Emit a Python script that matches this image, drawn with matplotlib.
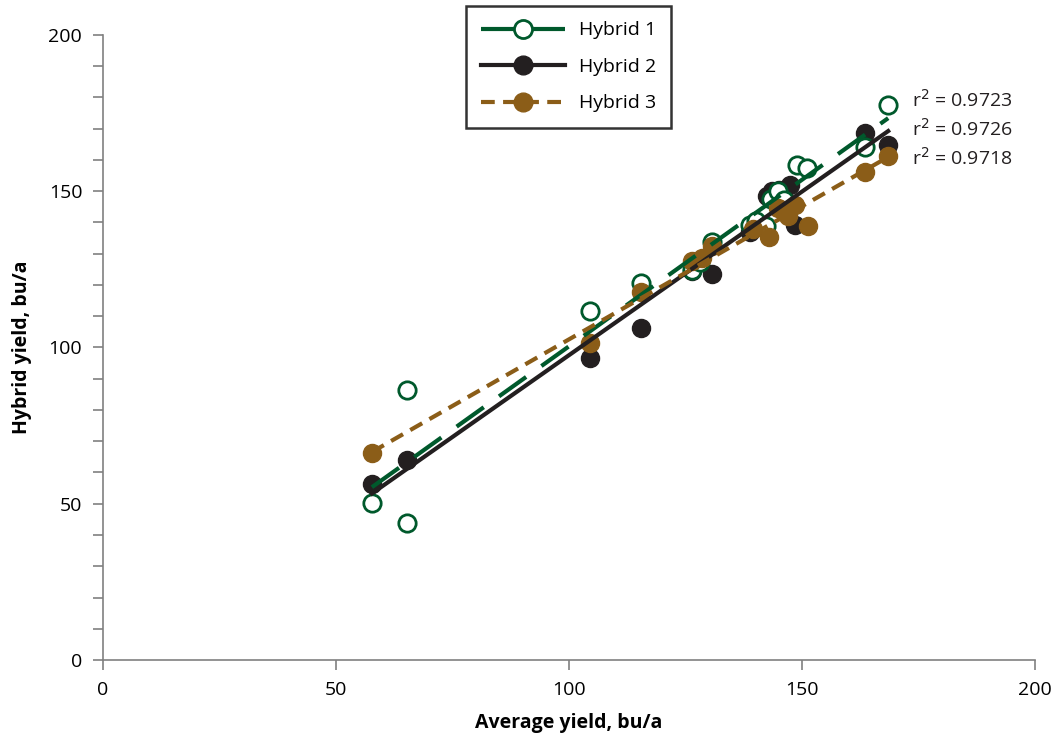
import matplotlib.pyplot as plt
import numpy as np
from matplotlib.lines import Line2D
from matplotlib.ticker import MultipleLocator

plt.rcParams["font.family"] = ["Open Sans", "DejaVu Sans"]

# Hybrid 1 (open circles)
h1_x = [57.7, 65.2, 65.2, 104.5, 115.5, 126.4, 128.2, 130.7, 138.8, 140.2, 142.3,
        143.3, 144.8, 146.2, 148.9, 151.0, 163.5, 168.5]
h1_y = [50.2, 43.8, 86.4, 111.7, 120.6, 124.8, 127.2, 133.6, 139.2, 140.5, 138.9,
        147.5, 150.0, 147.0, 158.4, 157.4, 164.2, 177.4]

# Hybrid 2 (black)
h2_x = [57.7, 65.2, 104.5, 115.5, 126.4, 130.7, 138.8, 142.5, 143.5, 145.0,
        147.5, 148.5, 163.5, 168.5]
h2_y = [56.3, 64.0, 96.6, 106.2, 124.5, 123.5, 136.8, 148.5, 150.0, 150.5,
        152.0, 139.3, 168.6, 164.8]

# Hybrid 3 (brown)
h3_x = [57.7, 104.5, 115.5, 126.4, 128.5, 130.7, 139.5, 143.0, 144.8, 147.0,
        148.5, 151.3, 163.5, 168.5]
h3_y = [66.2, 101.5, 117.8, 127.5, 128.5, 132.5, 138.0, 135.4, 144.6, 142.0,
        145.5, 138.9, 156.2, 161.3]

r2_labels = ["r$^2$ = 0.9723", "r$^2$ = 0.9726", "r$^2$ = 0.9718"]

green = "#00592c"
black = "#231f20"
brown = "#8b5d18"

fig = plt.figure(figsize=(10.59, 7.4), dpi=100)
ax = fig.add_axes([0.0973, 0.108, 0.88, 0.845])


def trend(x, y):
    k, b = np.polyfit(x, y, 1)
    xs = np.array([min(x), max(x)])
    return xs, k * xs + b


x1, y1 = trend(h1_x, h1_y)
x2, y2 = trend(h2_x, h2_y)
x3, y3 = trend(h3_x, h3_y)

ax.plot(x1, y1, color=green, lw=3, dashes=(8, 4.5), zorder=4)
ax.plot(x2, y2, color=black, lw=3, zorder=4)
ax.plot(x3, y3, color=brown, lw=3, dashes=(3.3, 2), zorder=4)

ax.plot(h2_x, h2_y, "o", ms=13, color=black, mec=black, zorder=2)
ax.plot(h1_x, h1_y, "o", ms=12.5, mfc="white", mec=green, mew=2, zorder=3)
ax.plot(h3_x, h3_y, "o", ms=13, color=brown, mec=brown, zorder=3.5)

for i, lab in enumerate(r2_labels):
    ax.text(0.861, 0.865 - i * 0.039, lab, transform=fig.transFigure,
            fontsize=14, color="#231f20", va="center")

ax.set_xlim(0, 200)
ax.set_ylim(0, 200)
ax.xaxis.set_major_locator(MultipleLocator(50))
ax.yaxis.set_major_locator(MultipleLocator(50))
ax.yaxis.set_minor_locator(MultipleLocator(10))
for s in ["top", "right"]:
    ax.spines[s].set_visible(False)
for s in ["left", "bottom"]:
    ax.spines[s].set_color("#808080")
    ax.spines[s].set_linewidth(1.2)
ax.tick_params(which="both", color="#808080", labelsize=14, width=1.2)
ax.tick_params(which="major", length=7)
ax.tick_params(which="minor", length=7)
ax.tick_params(axis="y", pad=8)
ax.tick_params(axis="x", pad=8)

ax.set_xlabel("Average yield, bu/a", fontsize=14, fontweight="bold", labelpad=10)
ax.set_ylabel("Hybrid yield, bu/a", fontsize=14, fontweight="bold", labelpad=12)

handles = [
    Line2D([], [], color=green, lw=3, dashes=(8, 4.5), marker="o", ms=13,
           mfc="white", mec=green, mew=2),
    Line2D([], [], color=black, lw=3, marker="o", ms=13.5),
    Line2D([], [], color=brown, lw=3, dashes=(3.3, 2), marker="o", ms=13.5),
]
leg = fig.legend(handles, ["Hybrid 1", "Hybrid 2", "Hybrid 3"],
                 loc="upper center", bbox_to_anchor=(0.537, 0.992),
                 fontsize=14, frameon=True, fancybox=False, edgecolor="black",
                 handlelength=4.3, borderpad=0.8, labelspacing=0.95,
                 handletextpad=0.7, borderaxespad=0)
leg.get_frame().set_linewidth(1.8)

fig.savefig("out.png", dpi=100)
